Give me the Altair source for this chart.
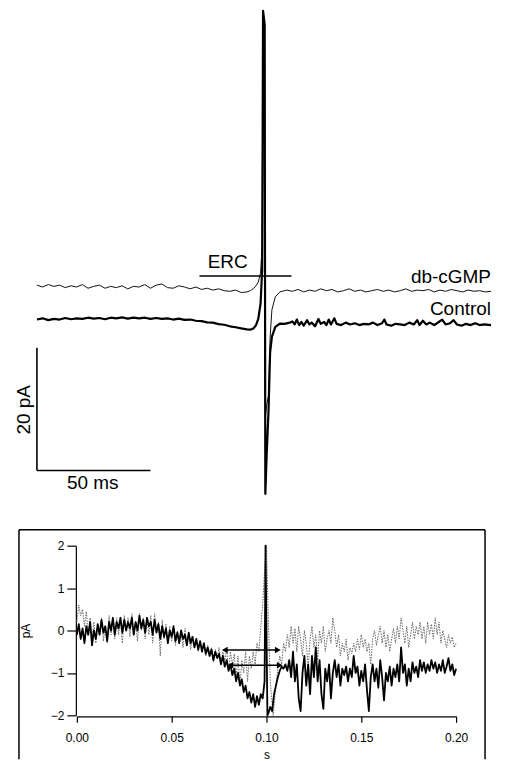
import altair as alt
import pandas as pd

FONT = "Liberation Sans"

# ---------------- top panel: time (ms) vs current (pA) ----------------
control_top = [
    (0, -0.1), (2.5, 0.1), (5, -0.2), (7.5, 0.0), (10, -0.1), (12.5, 0.15), (15, -0.05),
    (17.5, 0.1), (20, 0.0), (22.5, 0.2), (25, 0.05), (27.5, 0.15), (30, -0.05), (32.5, 0.2),
    (35, 0.1), (37.5, 0.25), (40, 0.05), (42.5, 0.2), (45, 0.1), (47.5, 0.2), (50, 0.0),
    (52.5, 0.15), (55, 0.0), (57.5, 0.1), (60, -0.1), (62.5, 0.05), (65, -0.15), (67.5, -0.1),
    (70, -0.3), (72.5, -0.35), (75, -0.55), (77.5, -0.6), (80, -0.85), (82.5, -0.95),
    (85, -1.2), (87.5, -1.35), (90, -1.55), (92.5, -1.7), (94, -1.75), (95.5, -1.5),
    (96.5, -1.0), (97.5, 0.0), (98.5, 2.5), (99.2, 8.0), (99.6, 50.2), (100.3, 48.0),
    (100.6, -28.5), (101.2, -22.0), (102, -15.0), (102.7, -5.5), (103.5, -2.9), (105, -1.3),
    (107, -0.75), (109, -0.8), (111, -0.65), (112.5, -0.4), (113.5, -0.9), (114.5, -0.1),
    (115.5, -1.0), (116.5, -0.5), (117.5, -1.1), (119, -0.2), (120, -0.9), (121, -0.6),
    (122.5, -1.2), (124, 0.0), (125, -0.8), (126.5, -0.5), (127.5, -1.0), (128.5, -0.1),
    (129.5, -0.9), (131, 0.1), (132, -0.8), (134, -1.0), (136, -0.6), (138, -0.9),
    (140, -0.7), (142, -1.0), (144, -0.8), (146, -0.9), (148, -0.6), (150, -1.0),
    (152, -0.7), (153, -0.1), (154, -0.9), (156, -1.1), (158, -0.8), (160, -0.9),
    (162, -1.0), (164, -0.6), (166, -0.9), (167.5, -0.2), (168.5, -1.0), (170, -0.3),
    (171.5, -0.9), (173, -0.6), (175, -1.0), (177, -0.5), (178.5, -0.1), (180, -0.9),
    (182, -0.7), (183.5, -0.2), (185, -0.9), (187, -1.1), (189, -0.8), (191, -1.0),
    (193, -0.7), (195, -1.0), (197, -0.9), (200, -1.0),
]

dbcgmp_top = [
    (0, 5.5), (2.5, 5.2), (5, 5.6), (7.5, 5.3), (10, 5.5), (12.5, 5.1), (15, 5.4),
    (17.5, 5.2), (20, 5.6), (22.5, 5.0), (25, 5.3), (27.5, 5.5), (30, 5.0), (32.5, 5.3),
    (35, 5.1), (37.5, 5.4), (40, 4.9), (42.5, 5.3), (45, 5.2), (47.5, 5.6), (50, 5.0),
    (52.5, 5.5), (55, 5.7), (57.5, 5.1), (60, 5.0), (62.5, 5.4), (65, 5.2), (67.5, 4.9),
    (70, 5.2), (72.5, 4.8), (75, 5.0), (77.5, 4.7), (80, 4.9), (82.5, 4.6), (85, 4.5),
    (87.5, 4.7), (90, 4.3), (92.5, 4.4), (94, 4.6), (95.5, 5.0), (96.5, 5.4), (97.5, 6.0),
    (98.5, 7.5), (99.2, 12.0), (99.6, 50.2), (100.3, 48.0), (100.6, -16.0), (101.2, -14.0),
    (102, -12.5), (102.7, -3.0), (103.5, 1.5), (105, 3.6), (107, 4.4), (110, 4.7),
    (112.5, 4.5), (115, 4.8), (117.5, 4.4), (120, 4.7), (122.5, 4.5), (125, 4.9),
    (127.5, 4.6), (130, 4.8), (132.5, 4.4), (135, 4.6), (137.5, 4.9), (140, 4.5),
    (142.5, 4.7), (145, 4.4), (147.5, 4.6), (150, 4.8), (152.5, 4.5), (155, 4.7),
    (157.5, 4.4), (160, 4.6), (162.5, 4.9), (165, 4.5), (167.5, 4.7), (170, 4.6),
    (172.5, 4.8), (175, 4.4), (177.5, 4.7), (180, 4.5), (182.5, 4.8), (185, 4.6),
    (187.5, 4.4), (190, 4.7), (192.5, 4.5), (195, 4.6), (197.5, 4.4), (200, 4.5),
]

# calibration bars (50 ms, 20 pA) and ERC bar
scalebar_t = [0, 50]
scalebar_pa = [-24.7, -4.7]
erc_t = [71.6, 112.1]
erc_pa = 7.0

top_labels = ["ERC", "db-cGMP", "Control", "50 ms", "20 pA"]
top_label_t = [84.0, 200.0, 200.0, 24.6, -5.7]
top_label_pa = [9.3, 6.8, 1.6, -26.8, -14.8]
top_label_align = ["center", "right", "right", "center", "center"]
top_label_angle = [0, 0, 0, 0, 270]

# ---------------- bottom panel: time (s) vs current (pA) ----------------
control_bottom = [
    (0.000, -0.1), (0.001, 0.15), (0.002, -0.2), (0.003, 0.05), (0.004, -0.3), (0.005, 0.1),
    (0.006, -0.1), (0.007, 0.2), (0.008, -0.35), (0.009, 0.0), (0.010, -0.2), (0.011, 0.15),
    (0.012, -0.1), (0.013, 0.25), (0.014, -0.05), (0.015, 0.1), (0.016, -0.25), (0.017, 0.2),
    (0.018, 0.0), (0.019, 0.3), (0.020, -0.1), (0.021, 0.2), (0.022, 0.05), (0.023, 0.3),
    (0.024, -0.05), (0.025, 0.25), (0.026, 0.0), (0.027, 0.2), (0.028, 0.05), (0.029, 0.3),
    (0.030, -0.1), (0.031, 0.2), (0.032, 0.0), (0.033, 0.35), (0.034, 0.05), (0.035, 0.25),
    (0.036, -0.05), (0.037, 0.3), (0.038, 0.1), (0.039, 0.2), (0.040, -0.1), (0.041, 0.25),
    (0.042, -0.05), (0.043, 0.15), (0.044, -0.2), (0.045, 0.1), (0.046, -0.15), (0.047, 0.05),
    (0.048, -0.3), (0.049, 0.0), (0.050, -0.15), (0.051, 0.1), (0.052, -0.25), (0.053, -0.05),
    (0.054, -0.3), (0.055, 0.0), (0.056, -0.2), (0.057, -0.1), (0.058, -0.35), (0.059, -0.05),
    (0.060, -0.3), (0.061, -0.15), (0.062, -0.4), (0.063, -0.2), (0.064, -0.45), (0.065, -0.25),
    (0.066, -0.5), (0.067, -0.3), (0.068, -0.55), (0.069, -0.4), (0.070, -0.6), (0.071, -0.45),
    (0.072, -0.7), (0.073, -0.5), (0.074, -0.65), (0.075, -0.55), (0.076, -0.8), (0.077, -0.6),
    (0.078, -0.85), (0.079, -0.7), (0.080, -0.95), (0.081, -0.8), (0.082, -1.05), (0.083, -0.9),
    (0.084, -1.2), (0.085, -1.0), (0.086, -1.3), (0.087, -1.15), (0.088, -1.45), (0.089, -1.3),
    (0.090, -1.6), (0.091, -1.45), (0.092, -1.7), (0.093, -1.5), (0.094, -1.8), (0.095, -1.55),
    (0.096, -1.75), (0.097, -1.5), (0.098, -1.6), (0.099, -1.2), (0.0995, 2.0), (0.1005, -2.0),
    (0.101, -1.95), (0.102, -1.8), (0.103, -1.9), (0.104, -1.5), (0.105, -1.3), (0.106, -1.1),
    (0.107, -0.95), (0.108, -0.85), (0.109, -0.9), (0.110, -0.8), (0.111, -0.95), (0.112, -0.7),
    (0.113, -1.1), (0.114, -0.5), (0.115, -1.2), (0.116, -0.8), (0.117, -1.6), (0.118, -1.9),
    (0.119, -1.0), (0.120, -0.6), (0.121, -1.3), (0.122, -0.8), (0.123, -1.5), (0.124, -0.6),
    (0.125, -1.1), (0.126, -0.4), (0.127, -1.2), (0.128, -0.7), (0.129, -1.5), (0.130, -1.85),
    (0.131, -0.9), (0.132, -1.2), (0.133, -0.8), (0.134, -1.6), (0.135, -1.0), (0.136, -0.7),
    (0.137, -1.1), (0.138, -0.8), (0.139, -1.3), (0.140, -0.9), (0.141, -1.05), (0.142, -0.85),
    (0.143, -1.2), (0.144, -0.9), (0.145, -1.1), (0.146, -0.6), (0.147, -1.0), (0.148, -0.85),
    (0.149, -1.3), (0.150, -0.95), (0.151, -1.2), (0.152, -0.8), (0.153, -1.4), (0.154, -1.9),
    (0.155, -1.1), (0.156, -0.8), (0.157, -1.2), (0.158, -0.9), (0.159, -1.35), (0.160, -0.7),
    (0.161, -1.1), (0.162, -1.65), (0.163, -1.0), (0.164, -1.2), (0.165, -0.85), (0.166, -1.3),
    (0.167, -0.9), (0.168, -1.1), (0.169, -0.8), (0.170, -1.2), (0.171, -0.4), (0.172, -1.0),
    (0.173, -0.8), (0.174, -1.3), (0.175, -0.9), (0.176, -1.2), (0.177, -0.75), (0.178, -1.0),
    (0.179, -0.85), (0.180, -1.1), (0.181, -0.7), (0.182, -0.95), (0.183, -0.75), (0.184, -1.0),
    (0.185, -0.8), (0.186, -0.95), (0.187, -0.7), (0.188, -0.9), (0.189, -0.75), (0.190, -1.0),
    (0.191, -0.8), (0.192, -0.95), (0.193, -0.7), (0.194, -1.0), (0.195, -0.85), (0.196, -0.65),
    (0.197, -0.95), (0.198, -0.8), (0.199, -1.05), (0.200, -0.9),
]

dbcgmp_bottom = [
    (0.000, 0.2), (0.001, 0.6), (0.002, 0.35), (0.003, 0.5), (0.004, 0.1), (0.005, 0.45),
    (0.006, -0.1), (0.007, 0.3), (0.008, -0.2), (0.009, 0.2), (0.010, -0.3), (0.011, 0.15),
    (0.012, -0.1), (0.013, 0.3), (0.014, -0.25), (0.015, 0.1), (0.016, -0.3), (0.017, 0.35),
    (0.018, -0.1), (0.019, 0.2), (0.020, -0.2), (0.021, 0.3), (0.022, -0.1), (0.023, 0.25),
    (0.024, -0.3), (0.025, 0.35), (0.026, 0.0), (0.027, 0.3), (0.028, -0.15), (0.029, 0.4),
    (0.030, -0.1), (0.031, 0.2), (0.032, -0.25), (0.033, 0.4), (0.034, 0.0), (0.035, 0.3),
    (0.036, -0.2), (0.037, 0.25), (0.038, -0.1), (0.039, 0.35), (0.040, -0.3), (0.041, 0.4),
    (0.042, -0.05), (0.043, 0.2), (0.044, -0.6), (0.045, 0.25), (0.046, -0.2), (0.047, 0.15),
    (0.048, -0.3), (0.049, 0.1), (0.050, -0.25), (0.051, 0.05), (0.052, -0.35), (0.053, 0.0),
    (0.054, -0.2), (0.055, -0.05), (0.056, -0.4), (0.057, 0.05), (0.058, -0.3), (0.059, -0.1),
    (0.060, -0.45), (0.061, -0.15), (0.062, -0.35), (0.063, -0.2), (0.064, -0.5), (0.065, -0.25),
    (0.066, -0.45), (0.067, -0.3), (0.068, -0.6), (0.069, -0.35), (0.070, -0.55), (0.071, -0.4),
    (0.072, -0.75), (0.073, -0.45), (0.074, -0.65), (0.075, -0.4), (0.076, -0.8), (0.077, -0.5),
    (0.078, -0.7), (0.079, -0.45), (0.080, -0.95), (0.081, -0.5), (0.082, -0.8), (0.083, -0.55),
    (0.084, -1.1), (0.085, -0.6), (0.086, -1.3), (0.087, -0.7), (0.088, -1.0), (0.089, -0.5),
    (0.090, -1.2), (0.091, -0.6), (0.092, -0.9), (0.093, -0.5), (0.094, -0.8), (0.095, -0.3),
    (0.096, -0.5), (0.097, 0.1), (0.098, 0.6), (0.099, 1.4), (0.100, 2.0), (0.101, 0.2),
    (0.102, -1.2), (0.1035, -2.0), (0.105, -1.3), (0.106, -0.9), (0.107, -0.6), (0.108, -0.8),
    (0.109, -0.3), (0.110, -0.5), (0.111, -0.1), (0.112, -0.4), (0.113, 0.1), (0.114, -0.3),
    (0.115, 0.05), (0.116, -0.5), (0.117, 0.1), (0.118, -0.2), (0.119, -0.6), (0.120, 0.0),
    (0.121, -0.3), (0.122, -0.9), (0.123, -0.2), (0.124, 0.1), (0.125, -0.4), (0.126, -0.1),
    (0.127, -0.7), (0.128, 0.0), (0.129, -0.3), (0.130, 0.1), (0.131, -0.5), (0.132, -0.2),
    (0.133, 0.0), (0.134, -0.3), (0.135, 0.3), (0.136, 0.0), (0.137, -0.4), (0.138, -0.1),
    (0.139, -0.6), (0.140, -0.3), (0.141, -0.5), (0.142, -0.2), (0.143, -0.7), (0.144, -0.4),
    (0.145, -0.55), (0.146, -0.3), (0.147, -0.5), (0.148, -0.2), (0.149, -0.45), (0.150, -0.1),
    (0.151, -0.4), (0.152, -0.2), (0.153, -0.5), (0.154, -0.3), (0.155, -0.8), (0.156, -0.2),
    (0.157, 0.0), (0.158, -0.35), (0.159, -0.1), (0.160, 0.1), (0.161, -0.3), (0.162, 0.0),
    (0.163, -0.4), (0.164, -0.1), (0.165, -0.5), (0.166, -0.2), (0.167, 0.05), (0.168, -0.3),
    (0.169, 0.1), (0.170, -0.2), (0.171, 0.3), (0.172, 0.0), (0.173, -0.3), (0.174, 0.1),
    (0.175, -0.4), (0.176, -0.1), (0.177, 0.2), (0.178, -0.2), (0.179, 0.1), (0.180, -0.1),
    (0.181, 0.2), (0.182, -0.2), (0.183, 0.1), (0.184, -0.3), (0.185, 0.2), (0.186, -0.1),
    (0.187, 0.15), (0.188, -0.2), (0.189, 0.3), (0.190, -0.1), (0.191, 0.2), (0.192, -0.3),
    (0.193, 0.0), (0.194, -0.2), (0.195, -0.4), (0.196, -0.1), (0.197, -0.3), (0.198, -0.15),
    (0.199, -0.4), (0.200, -0.3),
]

# double-headed markers between traces
arrow_start = [0.078, 0.081]
arrow_end = [0.106, 0.107]
arrow_level = [-0.46, -0.82]

x_ticks = [0.0, 0.05, 0.10, 0.15, 0.20]
y_ticks = [-2, -1, 0, 1, 2]


def trace_df(pairs):
    return pd.DataFrame({"i": range(len(pairs)),
                         "t": [p[0] for p in pairs],
                         "pA": [p[1] for p in pairs]})


# ---------------- top chart ----------------
xs_top = alt.Scale(domain=[-7.91, 203.08], nice=False, zero=False)
ys_top = alt.Scale(domain=[-31.09, 50.21], nice=False, zero=False)
Xt = alt.X("t:Q", scale=xs_top, axis=None)
Yt = alt.Y("pA:Q", scale=ys_top, axis=None)

db_line = alt.Chart(trace_df(dbcgmp_top)).mark_line(
    color="#111", strokeWidth=1.0, strokeJoin="round").encode(x=Xt, y=Yt, order="i:Q")
ctrl_line = alt.Chart(trace_df(control_top)).mark_line(
    color="#000", strokeWidth=2.2, strokeJoin="round").encode(x=Xt, y=Yt, order="i:Q")

bars_df = pd.DataFrame({
    "t": [scalebar_t[0], scalebar_t[0], erc_t[0]],
    "t2": [scalebar_t[1], scalebar_t[0], erc_t[1]],
    "pA": [scalebar_pa[0], scalebar_pa[0], erc_pa],
    "pA2": [scalebar_pa[0], scalebar_pa[1], erc_pa],
})
bars = alt.Chart(bars_df).mark_rule(color="black", strokeWidth=1.6).encode(
    x=Xt, x2="t2:Q", y=Yt, y2="pA2:Q")

text_layers = []
for lab, t, pa, al, ang in zip(top_labels, top_label_t, top_label_pa, top_label_align, top_label_angle):
    d = pd.DataFrame({"t": [t], "pA": [pa], "lab": [lab]})
    text_layers.append(
        alt.Chart(d).mark_text(align=al, baseline="middle", angle=ang, font=FONT,
                               fontSize=19, color="black").encode(x=Xt, y=Yt, text="lab:N"))

top = alt.layer(db_line, ctrl_line, bars, *text_layers).properties(width=480, height=500)

# ---------------- bottom chart ----------------
xs_b = alt.Scale(domain=[0, 0.2], range=[58, 438], nice=False, zero=False)
ys_b = alt.Scale(domain=[-2, 2], range=[186, 16], nice=False, zero=False)
common_axis = dict(grid=False, domainColor="black", tickColor="black", labelColor="black",
                   titleColor="black", labelFont=FONT, titleFont=FONT, labelFontSize=12,
                   titleFontSize=12, titleFontWeight="normal", domainWidth=1.2, tickWidth=1.2,
                   labelFlush=False)
Xb = alt.X("t:Q", scale=xs_b, axis=alt.Axis(values=x_ticks, format=".2f", offset=-43, tickSize=6,
                                             labelPadding=10, title="s", titlePadding=6, **common_axis))
Yb = alt.Y("pA:Q", scale=ys_b, axis=alt.Axis(values=y_ticks, format="d", offset=-57, tickSize=9,
                                              labelPadding=3, title="pA", titlePadding=18, **common_axis))

db_b = alt.Chart(trace_df(dbcgmp_bottom)).mark_line(
    color="#666", strokeWidth=1.0, strokeDash=[1.5, 1.2]).encode(x=Xb, y=Yb, order="i:Q")
ctrl_b = alt.Chart(trace_df(control_bottom)).mark_line(
    color="#000", strokeWidth=1.8, strokeJoin="round").encode(x=Xb, y=Yb, order="i:Q")

arrows_df = pd.DataFrame({"t": arrow_start, "t2": arrow_end, "pA": arrow_level})
arrow_lines = alt.Chart(arrows_df).mark_rule(color="black", strokeWidth=1.5).encode(
    x=alt.X("t:Q", scale=xs_b), x2="t2:Q", y=alt.Y("pA:Q", scale=ys_b))
heads_df = pd.DataFrame({
    "t": arrow_start + arrow_end,
    "pA": arrow_level + arrow_level,
    "side": ["left", "left", "right", "right"],
})
heads = alt.Chart(heads_df).mark_point(filled=True, color="black", size=45, opacity=1).encode(
    x=alt.X("t:Q", scale=xs_b), y=alt.Y("pA:Q", scale=ys_b),
    shape=alt.Shape("side:N", scale=alt.Scale(domain=["left", "right"],
                                              range=["triangle-left", "triangle-right"]), legend=None))

dummy = pd.DataFrame({"a": [0]})
frame_left = alt.Chart(dummy).mark_rule(color="black", strokeWidth=1.5).encode(
    x=alt.value(0), y=alt.value(0), y2=alt.value(230))
frame_right = alt.Chart(dummy).mark_rule(color="black", strokeWidth=1.5).encode(
    x=alt.value(467), y=alt.value(0), y2=alt.value(230))
frame_top = alt.Chart(dummy).mark_rule(color="black", strokeWidth=1.5).encode(
    x=alt.value(0), x2=alt.value(467), y=alt.value(0))

bottom = alt.layer(frame_left, frame_right, frame_top, db_b, ctrl_b, arrow_lines, heads).properties(
    width=467, height=230)

chart = alt.vconcat(top, bottom, spacing=19).properties(
    padding={"left": 7, "top": 0, "right": 0, "bottom": 0},
    background="white",
).configure_view(stroke="transparent", strokeWidth=0)

chart.save("out.html", embed_options={"renderer": "svg", "actions": False})
